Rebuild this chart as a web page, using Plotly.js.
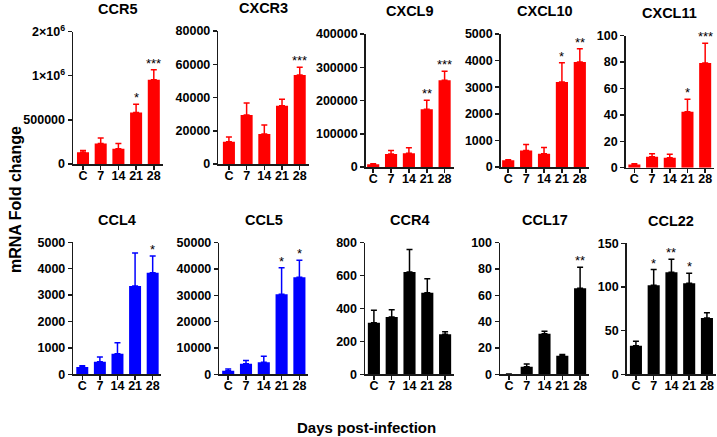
<!DOCTYPE html>
<html>
<head>
<meta charset="utf-8">
<script src="https://cdn.plot.ly/plotly-3.0.1.min.js"></script>
<style>html,body{margin:0;padding:0;background:#fff;}#chart{width:717px;height:437px;}</style>
</head>
<body>
<div id="chart"></div>
<script>
// ---------- DATA ----------
const categories = ['C', '7', '14', '21', '28'];
const panelTitles = ['CCR5', 'CXCR3', 'CXCL9', 'CXCL10', 'CXCL11', 'CCL4', 'CCL5', 'CCR4', 'CCL17', 'CCL22'];

const ccr5Values   = [132000, 233000, 172000, 583000, 955000];
const ccr5Errors   = [22000, 60000, 61000, 94000, 113000];
const cxcr3Values  = [13400, 29500, 18000, 35000, 53500];
const cxcr3Errors  = [2800, 7200, 5500, 4000, 4700];
const cxcl9Values  = [8000, 39000, 41000, 174000, 261000];
const cxcl9Errors  = [2000, 11000, 17000, 27000, 27000];
const cxcl10Values = [250, 620, 500, 3200, 3950];
const cxcl10Errors = [20, 230, 230, 720, 500];
const cxcl11Values = [2.5, 8.3, 7.6, 42.4, 79.3];
const cxcl11Errors = [0.4, 2.3, 2.5, 9.4, 15];
const ccl4Values   = [280, 477, 781, 3346, 3850];
const ccl4Errors   = [46, 178, 416, 1250, 630];
const ccl5Values   = [1370, 4000, 4550, 30400, 36860];
const ccl5Errors   = [630, 1200, 2290, 10100, 6440];
const ccr4Values   = [314, 348, 622, 496, 243];
const ccr4Errors   = [75, 45, 136, 85, 16];
const ccl17Values  = [0.3, 5.8, 30.8, 14.1, 65.3];
const ccl17Errors  = [0, 2, 1.9, 1, 16];
const ccl22Values  = [32.8, 101.9, 116.8, 104.2, 64.5];
const ccl22Errors  = [5, 18, 15, 11.4, 6];

const ccr5Stars   = ['', '', '', '*', '***'];
const cxcr3Stars  = ['', '', '', '', '***'];
const cxcl9Stars  = ['', '', '', '**', '***'];
const cxcl10Stars = ['', '', '', '*', '**'];
const cxcl11Stars = ['', '', '', '*', '***'];
const ccl4Stars   = ['', '', '', '', '*'];
const ccl5Stars   = ['', '', '', '*', '*'];
const ccr4Stars   = ['', '', '', '', ''];
const ccl17Stars  = ['', '', '', '', '**'];
const ccl22Stars  = ['', '*', '**', '*', ''];

const ccr5TickVals   = [0, 500000, 1000000, 1500000];
const ccr5TickText   = ['0', '500000', '1×10<sup>6</sup>', '2×10<sup>6</sup>'];
const cxcr3TickVals  = [0, 20000, 40000, 60000, 80000];
const cxcl9TickVals  = [0, 100000, 200000, 300000, 400000];
const cxcl10TickVals = [0, 1000, 2000, 3000, 4000, 5000];
const cxcl11TickVals = [0, 20, 40, 60, 80, 100];
const ccl4TickVals   = [0, 1000, 2000, 3000, 4000, 5000];
const ccl5TickVals   = [0, 10000, 20000, 30000, 40000, 50000];
const ccr4TickVals   = [0, 200, 400, 600, 800];
const ccl17TickVals  = [0, 20, 40, 60, 80, 100];
const ccl22TickVals  = [0, 50, 100, 150];

const yLabel = 'mRNA Fold change';
const xLabel = 'Days post-infection';

// ---------- STYLE / GEOMETRY ----------
const RED = 'rgb(255,0,0)', BLUE = 'rgb(0,0,255)', BLACK = 'rgb(0,0,0)';
const FONT = 'Liberation Sans, Arial, sans-serif';
const W = 717, H = 437;
const bold = t => '<b>' + t + '</b>';

const panels = [
  {vals: ccr5Values,   errs: ccr5Errors,   stars: ccr5Stars,   tv: ccr5TickVals,   tt: ccr5TickText, color: RED},
  {vals: cxcr3Values,  errs: cxcr3Errors,  stars: cxcr3Stars,  tv: cxcr3TickVals,  color: RED},
  {vals: cxcl9Values,  errs: cxcl9Errors,  stars: cxcl9Stars,  tv: cxcl9TickVals,  color: RED},
  {vals: cxcl10Values, errs: cxcl10Errors, stars: cxcl10Stars, tv: cxcl10TickVals, color: RED},
  {vals: cxcl11Values, errs: cxcl11Errors, stars: cxcl11Stars, tv: cxcl11TickVals, color: RED},
  {vals: ccl4Values,   errs: ccl4Errors,   stars: ccl4Stars,   tv: ccl4TickVals,   color: BLUE},
  {vals: ccl5Values,   errs: ccl5Errors,   stars: ccl5Stars,   tv: ccl5TickVals,   color: BLUE},
  {vals: ccr4Values,   errs: ccr4Errors,   stars: ccr4Stars,   tv: ccr4TickVals,   color: BLACK},
  {vals: ccl17Values,  errs: ccl17Errors,  stars: ccl17Stars,  tv: ccl17TickVals,  color: BLACK},
  {vals: ccl22Values,  errs: ccl22Errors,  stars: ccl22Stars,  tv: ccl22TickVals,  color: BLACK}
];

const geo = [
  {x0: 73,    o: 0.565, s: 17.7,  top: 31.5,  bot: 164},
  {x0: 218.3, o: 0.6,   s: 17.7,  top: 31,    bot: 164},
  {x0: 365.7, o: 0.42,  s: 17.85, top: 34,    bot: 167},
  {x0: 500.7, o: 0.42,  s: 17.9,  top: 34,    bot: 167},
  {x0: 625.7, o: 0.49,  s: 17.7,  top: 35.7,  bot: 167.7},
  {x0: 73.3,  o: 0.51,  s: 17.6,  top: 242.3, bot: 374.3},
  {x0: 219.3, o: 0.5,   s: 17.8,  top: 242.7, bot: 374.3},
  {x0: 365,   o: 0.5,   s: 17.8,  top: 242.7, bot: 374.3},
  {x0: 500,   o: 0.5,   s: 17.8,  top: 242.7, bot: 374.3},
  {x0: 626.7, o: 0.52,  s: 17.75, top: 243.3, bot: 374.3}
];

const data = [];
const layout = {
  width: W, height: H,
  margin: {l: 0, r: 0, t: 0, b: 0},
  paper_bgcolor: '#fff', plot_bgcolor: '#fff',
  showlegend: false,
  bargap: 0.32,
  font: {family: FONT, color: '#000'},
  annotations: []
};

panels.forEach((p, i) => {
  const g = geo[i];
  const n = i + 1;
  const xa = n === 1 ? 'x' : 'x' + n;
  const ya = n === 1 ? 'y' : 'y' + n;
  const x1 = Math.min(g.x0 + (4.5 + g.o) * g.s, W - 1);
  const ymax = p.tv[p.tv.length - 1];

  data.push({
    type: 'bar',
    x: categories,
    y: p.vals,
    xaxis: xa, yaxis: ya,
    marker: {color: p.color, line: {width: 0}},
    error_y: {
      type: 'data', symmetric: false,
      array: p.errs, arrayminus: p.errs.map(() => 0),
      color: p.color, thickness: 1.5, width: 3
    },
    hoverinfo: 'skip'
  });

  const axLine = {showline: true, linecolor: '#1a1a1a', linewidth: 1.5, ticks: 'outside',
    ticklen: 4, tickwidth: 1.5, tickcolor: '#1a1a1a', showgrid: false, zeroline: false,
    tickfont: {family: FONT, size: 12.5, color: '#000'}, fixedrange: true};

  layout[n === 1 ? 'xaxis' : 'xaxis' + n] = Object.assign({}, axLine, {
    type: 'category',
    domain: [g.x0 / W, x1 / W],
    range: [-g.o, 4.5],
    anchor: ya,
    tickmode: 'array', tickvals: categories, ticktext: categories.map(bold),
    ticklabelstandoff: -5
  });
  layout[n === 1 ? 'yaxis' : 'yaxis' + n] = Object.assign({}, axLine, {
    domain: [1 - g.bot / H, 1 - g.top / H],
    range: [0, ymax],
    anchor: xa,
    tickmode: 'array', tickvals: p.tv,
    ticktext: (p.tt ? p.tt : p.tv.map(String)).map(bold)
  });

  // panel title
  layout.annotations.push({
    xref: 'paper', yref: 'paper',
    x: (g.x0 + x1) / 2 / W, y: 1 - (g.top - 22.5) / H,
    xanchor: 'center', yanchor: 'middle',
    text: bold(panelTitles[i]), showarrow: false,
    font: {family: FONT, size: 14.5, color: '#000'}
  });

  // significance stars
  p.stars.forEach((s, k) => {
    if (!s) return;
    layout.annotations.push({
      xref: xa, yref: ya,
      x: k, y: p.vals[k] + p.errs[k],
      xanchor: 'center', yanchor: 'bottom', yshift: -3,
      text: s, showarrow: false,
      font: {family: FONT, size: 13, color: '#000'}
    });
  });
});

// shared axis labels
layout.annotations.push({
  xref: 'paper', yref: 'paper', x: 15 / W, y: 1 - 200 / H,
  xanchor: 'center', yanchor: 'middle', textangle: -90,
  text: bold(yLabel), showarrow: false,
  font: {family: FONT, size: 16, color: '#000'}
});
layout.annotations.push({
  xref: 'paper', yref: 'paper', x: 367 / W, y: 1 - 427 / H,
  xanchor: 'center', yanchor: 'middle',
  text: bold(xLabel), showarrow: false,
  font: {family: FONT, size: 15, color: '#000'}
});

Plotly.newPlot('chart', data, layout, {staticPlot: true, displayModeBar: false});
</script>
</body>
</html>
